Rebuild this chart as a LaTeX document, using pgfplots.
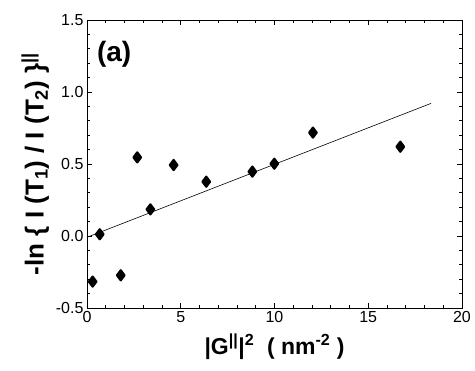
\documentclass[border=0pt]{standalone}
\usepackage{pgfplots}
\pgfplotsset{compat=1.18}
\usepackage{fontspec}
\setmainfont{Liberation Sans}
\begin{document}
\begin{tikzpicture}
\useasboundingbox (-87pt,-63pt) rectangle (388pt,308pt);
\begin{axis}[
  scale only axis,
  width=375pt, height=288pt,
  at={(0pt,0pt)}, anchor=south west,
  xmin=0, xmax=20, ymin=-0.5, ymax=1.5,
  xtick={0,5,10,15,20},
  ytick={-0.5,0,0.5,1,1.5},
  minor x tick num=4,
  minor y tick num=4,
  tick align=inside,
  major tick length=5pt,
  minor tick length=3pt,
  tick style={black, line width=0.6pt},
  axis line style={line width=0.8pt},
  xticklabel style={font=\fontsize{16}{16}\selectfont},
  yticklabel style={font=\fontsize{16}{16}\selectfont},
  /pgf/number format/assume math mode=true,
  /pgf/number format/.cd, fixed, fixed zerofill, precision=1,
  /pgfplots/.cd,
  xticklabel={\pgfmathprintnumber[fixed,precision=0]{\tick}},
  xlabel={|G\textsuperscript{||}|\textsuperscript{2}\ \ ( nm\textsuperscript{-2} )},
  ylabel={-ln \{ I (T\textsubscript{1}) / I (T\textsubscript{2}) \}\textsuperscript{||}},
  xlabel style={font=\fontsize{23}{23}\selectfont\bfseries, yshift=-4pt},
  ylabel style={font=\fontsize{26}{26}\selectfont\bfseries, yshift=0pt},
  clip=false,
]
\addplot[only marks, mark=diamond*, mark size=5pt, black,
  mark options={line width=2.2pt, line join=round}] coordinates {
 (0.30,-0.317) (0.68,0.012) (1.80,-0.273) (2.68,0.546) (3.38,0.185)
 (4.62,0.493) (6.36,0.377) (8.82,0.447) (9.99,0.502) (12.05,0.718) (16.71,0.62)
};
\addplot[black, line width=0.6pt] coordinates {(0,-0.009) (18.35,0.921)};
\node[font=\fontsize{28}{28}\selectfont\bfseries] at (axis cs:1.45,1.26) {(a)};
\end{axis}
\end{tikzpicture}
\end{document}
